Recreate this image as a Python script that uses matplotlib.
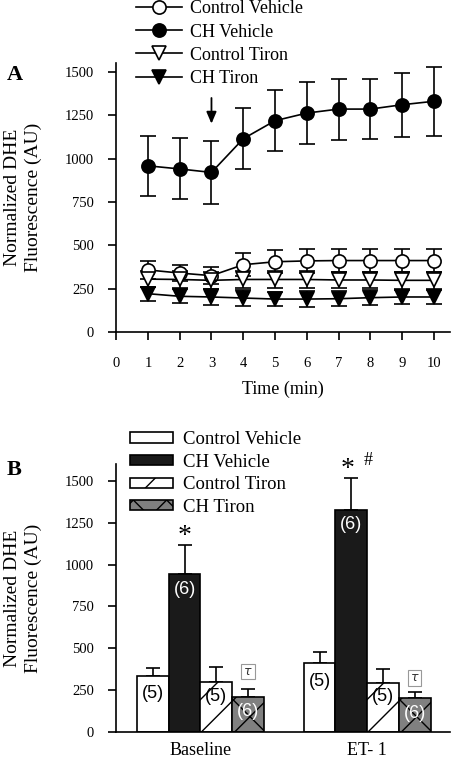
import numpy as np
import matplotlib
matplotlib.use('Agg')
import matplotlib.pyplot as plt
from matplotlib.lines import Line2D
from matplotlib.patches import Patch

plt.rcParams['font.family'] = ['Liberation Serif', 'DejaVu Serif']
plt.rcParams['hatch.linewidth'] = 1.0

# Panel A: time course
time_min = [1, 2, 3, 4, 5, 6, 7, 8, 9, 10]
ctrl_veh = [358, 340, 325, 388, 405, 410, 412, 412, 412, 412]
ctrl_veh_err = [50, 48, 50, 66, 66, 68, 68, 68, 68, 68]
ch_veh = [958, 940, 920, 1114, 1218, 1262, 1285, 1285, 1310, 1330]
ch_veh_err = [174, 176, 180, 176, 177, 177, 176, 174, 184, 198]
ctrl_tir = [305, 303, 298, 303, 303, 303, 300, 300, 298, 298]
ctrl_tir_err = [48, 48, 48, 48, 48, 48, 48, 48, 48, 48]
ch_tir = [221, 206, 202, 196, 190, 190, 192, 198, 202, 202]
ch_tir_err = [40, 40, 44, 44, 42, 44, 42, 42, 40, 38]

# Panel B: bars
groups = ['Baseline', 'ET- 1']
bar_names = ['Control Vehicle', 'CH Vehicle', 'Control Tiron', 'CH Tiron']
bar_vals = [[338, 411], [944, 1327], [298, 296], [209, 205]]
bar_errs = [[47, 70], [173, 189], [91, 81], [47, 35]]
bar_n = [['(5)', '(5)'], ['(6)', '(6)'], ['(5)', '(5)'], ['(6)', '(6)']]

fig = plt.figure(figsize=(4.52, 7.64), dpi=100)

# ---------- A ----------
axA = fig.add_axes([0.257, 0.5654, 0.738, 0.352])
series = [
    (ctrl_veh, ctrl_veh_err, 'o', 'white', 'Control Vehicle'),
    (ch_veh, ch_veh_err, 'o', 'black', 'CH Vehicle'),
    (ctrl_tir, ctrl_tir_err, 'v', 'white', 'Control Tiron'),
    (ch_tir, ch_tir_err, 'v', 'black', 'CH Tiron'),
]
handles = []
for vals, errs, mk, fc, lab in series:
    ms = 9.5 if mk == 'o' else 10
    axA.errorbar(time_min, vals, yerr=errs, color='black', lw=1.2,
                 marker=mk, ms=ms, mfc=fc, mec='black', mew=1.2,
                 capsize=6, capthick=1.2, elinewidth=1.2)
    handles.append(Line2D([0], [0], color='black', lw=1.2, marker=mk, ms=ms,
                          mfc=fc, mec='black', mew=1.2, label=lab))

axA.annotate('', xy=(3, 1185), xytext=(3, 1365),
             arrowprops=dict(arrowstyle='-|>,head_width=0.3,head_length=0.7',
                             color='black', lw=1.3))
axA.set_xlim(0, 10.5)
axA.set_ylim(0, 1550)
axA.set_xticks(range(0, 11))
axA.set_yticks(range(0, 1501, 250))
axA.spines['top'].set_visible(False)
axA.spines['right'].set_visible(False)
axA.tick_params(direction='out', length=6, width=1.2, labelsize=10.5, pad=10)
axA.tick_params(axis='x', pad=12)
for s in ('left', 'bottom'):
    axA.spines[s].set_linewidth(1.2)
axA.set_xlabel('Time (min)', fontsize=13, labelpad=8)
axA.set_ylabel('Normalized DHE\nFluorescence (AU)', fontsize=14, labelpad=16,
               linespacing=1.35)
axA.legend(handles=handles, loc='upper left', bbox_to_anchor=(0.039, 1.26),
           frameon=False, fontsize=13, handlelength=2.5, handletextpad=0.45,
           labelspacing=0.34, borderaxespad=0)
fig.text(0.015, 0.895, 'A', fontsize=16, fontweight='bold')

# ---------- B ----------
axB = fig.add_axes([0.257, 0.0415, 0.738, 0.3513])
x = np.arange(len(groups))
w = 0.19
offsets = [-1.5 * w, -0.5 * w, 0.5 * w, 1.5 * w]
faces = ['white', '#1a1a1a', 'white', '#808080']
hatches = [None, None, '/', 'x']
ncolors = ['black', 'white', 'black', 'white']
bhandles = []
for i in range(4):
    pos = x + offsets[i]
    axB.bar(pos, bar_vals[i], width=w, color=faces[i], edgecolor='black',
            lw=1.2, hatch=hatches[i], zorder=2)
    axB.errorbar(pos, bar_vals[i], yerr=[[0, 0], bar_errs[i]], fmt='none',
                 ecolor='black', elinewidth=1.2, capsize=5, capthick=1.2, zorder=1)
    bhandles.append(Patch(facecolor=faces[i], edgecolor='black', lw=1.2,
                          hatch=hatches[i], label=bar_names[i]))

n_y = [[232, 302], [850, 1236], [213, 213], [125, 115]]
for i in range(4):
    for j in range(2):
        axB.text(x[j] + offsets[i], n_y[i][j], bar_n[i][j], ha='center',
                 va='center', fontsize=13, color=ncolors[i],
                 family=['Liberation Sans', 'DejaVu Sans'], zorder=3)

axB.text(x[0] + offsets[1], 1170, '*', ha='center', va='center', fontsize=20)
axB.text(x[1] + offsets[1] - 0.02, 1565, '*', ha='center', va='center', fontsize=20)
axB.text(x[1] + offsets[1] + 0.1, 1620, '#', ha='center', va='center', fontsize=13)
for j, ty in enumerate([362, 322]):
    axB.text(x[j] + offsets[3], ty, r'$\tau$', ha='center', va='center',
             fontsize=9, color='#333333',
             bbox=dict(boxstyle='square,pad=0.15', fc='white', ec='#999999', lw=0.8))

axB.set_xlim(-0.505, 1.495)
axB.set_ylim(0, 1600)
axB.set_yticks(range(0, 1501, 250))
axB.set_xticks(x)
axB.set_xticklabels(groups)
axB.spines['top'].set_visible(False)
axB.spines['right'].set_visible(False)
for s in ('left', 'bottom'):
    axB.spines[s].set_linewidth(1.2)
axB.tick_params(axis='y', direction='out', length=6, width=1.2, labelsize=10.5, pad=10)
axB.tick_params(axis='x', length=0, labelsize=13, pad=7)
axB.set_ylabel('Normalized DHE\nFluorescence (AU)', fontsize=14, labelpad=16,
               linespacing=1.35)
axB.legend(handles=bhandles, loc='upper left', bbox_to_anchor=(0.019, 1.15),
           frameon=False, fontsize=13.5, handlelength=2.3, handleheight=0.45,
           handletextpad=0.55, labelspacing=0.3, borderaxespad=0)
fig.text(0.015, 0.378, 'B', fontsize=16, fontweight='bold')

fig.savefig('out.png', dpi=100)
